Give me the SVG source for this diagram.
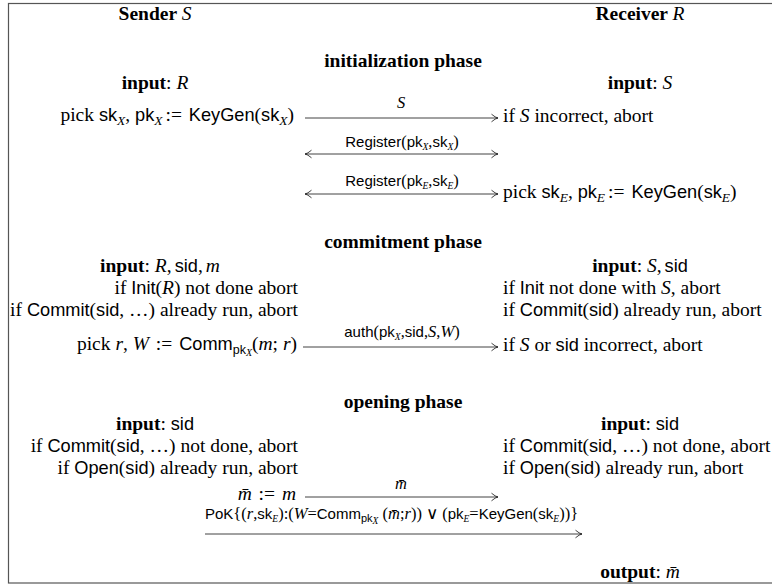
<svg xmlns="http://www.w3.org/2000/svg" width="772" height="585" viewBox="0 0 772 585">
<style>
text{font-family:"Liberation Serif","Times New Roman",serif;font-size:19.5px;fill:#000}
.b{font-weight:bold}
.i{font-style:italic}
.sf{font-family:"Liberation Sans",Arial,sans-serif;font-size:18.2px}
.sb{font-size:13.5px}
.ssf{font-family:"Liberation Sans",Arial,sans-serif;font-size:12.5px}
.ss{font-size:10px}
.lab{font-size:16.5px}
.lab .sf{font-size:15px}
.lab .ss{font-size:9.5px}
.lab .ssf{font-size:11px}
.end{text-anchor:end}
.mid{text-anchor:middle}
.ar{stroke:#111;stroke-width:0.8;fill:none}
</style>
<defs>
<marker id="h" markerUnits="userSpaceOnUse" markerWidth="12" markerHeight="12" refX="10" refY="6" orient="auto-start-reverse" viewBox="0 0 12 12">
<path d="M3.5 2.2 Q7.5 5.6 10 6 Q7.5 6.4 3.5 9.8" fill="none" stroke="#111" stroke-width="0.8"/>
</marker>
</defs>
<rect x="8.5" y="3.5" width="780" height="579.5" fill="#fff" stroke="#555" stroke-width="1.2"/>

<g id="headers">
<text class="mid" x="155" y="20"><tspan class="b">Sender </tspan><tspan class="i">S</tspan></text>
<text class="mid" x="640" y="20"><tspan class="b">Receiver </tspan><tspan class="i">R</tspan></text>
</g>

<g id="init-phase">
<text class="mid b" x="403" y="67">initialization phase</text>
</g>
<g id="init-sender">
<text class="mid" x="155" y="89"><tspan class="b">input</tspan>: <tspan class="i">R</tspan></text>
<text class="end" x="294" y="121">pick <tspan class="sf">sk</tspan><tspan class="i sb" dy="4">X</tspan><tspan dy="-4">, </tspan><tspan class="sf">pk</tspan><tspan class="i sb" dy="4">X</tspan><tspan dy="-4" dx="3">:=</tspan> <tspan class="sf" dx="2">KeyGen</tspan>(<tspan class="sf">sk</tspan><tspan class="i sb" dy="4">X</tspan><tspan dy="-4">)</tspan></text>
</g>
<g id="init-receiver">
<text class="mid" x="640" y="89"><tspan class="b">input</tspan>: <tspan class="i">S</tspan></text>
<text x="503" y="122">if <tspan class="i">S</tspan> incorrect, abort</text>
<text x="503" y="198">pick <tspan class="sf">sk</tspan><tspan class="i sb" dy="4">E</tspan><tspan dy="-4">, </tspan><tspan class="sf">pk</tspan><tspan class="i sb" dy="4">E</tspan><tspan dy="-4" dx="3">:=</tspan> <tspan class="sf" dx="2">KeyGen</tspan>(<tspan class="sf">sk</tspan><tspan class="i sb" dy="4">E</tspan><tspan dy="-4">)</tspan></text>
</g>

<g id="commit-phase">
<text class="mid b" x="403" y="248">commitment phase</text>
</g>
<g id="commit-sender">
<text class="mid" x="160" y="272"><tspan class="b">input</tspan>: <tspan class="i">R</tspan>,<tspan class="sf" dx="3">sid</tspan>,<tspan class="i" dx="3">m</tspan></text>
<text class="end" x="298" y="294">if <tspan class="sf">Init</tspan>(<tspan class="i">R</tspan>) not done abort</text>
<text class="end" x="298" y="316">if <tspan class="sf">Commit</tspan>(<tspan class="sf">sid</tspan>, …) already run, abort</text>
<text class="end" x="297" y="350">pick <tspan class="i">r</tspan>, <tspan class="i">W</tspan> <tspan dx="2">:=</tspan> <tspan class="sf" dx="2">Comm</tspan><tspan class="ssf" dy="4">pk</tspan><tspan class="i ss" dy="2">X</tspan><tspan dy="-6">(</tspan><tspan class="i">m</tspan>; <tspan class="i">r</tspan>)</text>
</g>
<g id="commit-receiver">
<text class="mid" x="640" y="272"><tspan class="b">input</tspan>: <tspan class="i">S</tspan>,<tspan class="sf" dx="3">sid</tspan></text>
<text x="503" y="294">if <tspan class="sf">Init</tspan> not done with <tspan class="i">S</tspan>, abort</text>
<text x="503" y="316">if <tspan class="sf">Commit</tspan>(<tspan class="sf">sid</tspan>) already run, abort</text>
<text x="503" y="351">if <tspan class="i">S</tspan> or <tspan class="sf">sid</tspan> incorrect, abort</text>
</g>

<g id="open-phase">
<text class="mid b" x="403" y="408">opening phase</text>
</g>
<g id="open-sender">
<text class="mid" x="155" y="430"><tspan class="b">input</tspan>: <tspan class="sf">sid</tspan></text>
<text class="end" x="298" y="452">if <tspan class="sf">Commit</tspan>(<tspan class="sf">sid</tspan>, …) not done, abort</text>
<text class="end" x="298" y="474">if <tspan class="sf">Open</tspan>(<tspan class="sf">sid</tspan>) already run, abort</text>
<text class="end" x="296" y="500"><tspan class="i">m̄</tspan> <tspan dx="2">:=</tspan> <tspan class="i" dx="2">m</tspan></text>
</g>
<g id="open-receiver">
<text class="mid" x="640" y="430"><tspan class="b">input</tspan>: <tspan class="sf">sid</tspan></text>
<text x="503" y="452">if <tspan class="sf">Commit</tspan>(<tspan class="sf">sid</tspan>, …) not done, abort</text>
<text x="503" y="474">if <tspan class="sf">Open</tspan>(<tspan class="sf">sid</tspan>) already run, abort</text>
<text class="mid" x="640" y="578"><tspan class="b">output</tspan>: <tspan class="i">m̄</tspan></text>
</g>

<g id="connectors">
<line class="ar" x1="305" y1="118" x2="498" y2="118" marker-end="url(#h)"/>
<line class="ar" x1="305" y1="154" x2="498" y2="154" marker-start="url(#h)" marker-end="url(#h)"/>
<line class="ar" x1="305" y1="194" x2="498" y2="194" marker-start="url(#h)" marker-end="url(#h)"/>
<line class="ar" x1="303" y1="347" x2="498" y2="347" marker-end="url(#h)"/>
<line class="ar" x1="305" y1="497" x2="498" y2="497" marker-end="url(#h)"/>
<line class="ar" x1="205" y1="534" x2="582" y2="534" marker-end="url(#h)"/>
<g class="lab">
<text class="mid lab i" x="401" y="108">S</text>
<text class="mid lab" x="402" y="147"><tspan class="sf">Register</tspan>(<tspan class="sf">pk</tspan><tspan class="i ss" dy="3">X</tspan><tspan dy="-3">,</tspan><tspan class="sf">sk</tspan><tspan class="i ss" dy="3">X</tspan><tspan dy="-3">)</tspan></text>
<text class="mid lab" x="402" y="186"><tspan class="sf">Register</tspan>(<tspan class="sf">pk</tspan><tspan class="i ss" dy="3">E</tspan><tspan dy="-3">,</tspan><tspan class="sf">sk</tspan><tspan class="i ss" dy="3">E</tspan><tspan dy="-3">)</tspan></text>
<text class="mid lab" x="402" y="337"><tspan class="sf">auth</tspan>(<tspan class="sf">pk</tspan><tspan class="i ss" dy="3">X</tspan><tspan dy="-3">,</tspan><tspan class="sf">sid</tspan>,<tspan class="i">S</tspan>,<tspan class="i">W</tspan>)</text>
<text class="mid lab i" x="401" y="489">m̄</text>
<text class="lab" x="205" y="519"><tspan class="sf">PoK</tspan>{(<tspan class="i">r</tspan>,<tspan class="sf">sk</tspan><tspan class="i ss" dy="3">E</tspan><tspan dy="-3">):(</tspan><tspan class="i">W</tspan>=<tspan class="sf">Comm</tspan><tspan class="ssf" dy="3">pk</tspan><tspan class="i ss" dy="2">X</tspan><tspan dy="-5"> (</tspan><tspan class="i">m̄</tspan>;<tspan class="i">r</tspan>)) ∨ (<tspan class="sf">pk</tspan><tspan class="i ss" dy="3">E</tspan><tspan dy="-3">=</tspan><tspan class="sf">KeyGen</tspan>(<tspan class="sf">sk</tspan><tspan class="i ss" dy="3">E</tspan><tspan dy="-3">))}</tspan></text>
</g>
</g>
</svg>
